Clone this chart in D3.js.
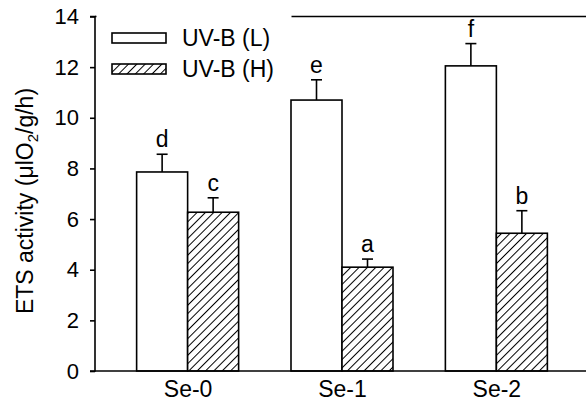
<!DOCTYPE html>
<html>
<head>
<meta charset="utf-8">
<script src="https://cdn.jsdelivr.net/npm/d3@7"></script>
<style>
  body { margin: 0; background: #fff; }
  text { font-family: Arial, "Liberation Sans", sans-serif; fill: #000; }
</style>
</head>
<body>
<script>
var categories = ["Se-0", "Se-1", "Se-2"];
var seriesNames = ["UV-B (L)", "UV-B (H)"];
var lowValues = [7.86, 10.70, 12.05];
var lowErrors = [0.70, 0.80, 0.88];
var highValues = [6.27, 4.10, 5.44];
var highErrors = [0.57, 0.32, 0.89];
var lowLetters = ["d", "e", "f"];
var highLetters = ["c", "a", "b"];
var yTicks = [0, 2, 4, 6, 8, 10, 12, 14];

var w = 586, h = 403;
var plotLeft = 95, plotTop = 16.5, plotBottom = 371;
var barW = 51;
var fs = "23px";

var svg = d3.select("body").append("svg")
  .attr("width", w)
  .attr("height", h);

var defs = svg.append("defs");
defs.append("pattern")
  .attr("id", "hatch")
  .attr("patternUnits", "userSpaceOnUse")
  .attr("width", 5.9)
  .attr("height", 5.9)
  .attr("patternTransform", "rotate(45)")
  .call(function(p) {
    p.append("rect").attr("width", 5.9).attr("height", 5.9).attr("fill", "#fff");
    p.append("line")
      .attr("x1", 0).attr("y1", 0).attr("x2", 0).attr("y2", 5.9)
      .attr("stroke", "#000").attr("stroke-width", 2);
  });

var x = d3.scalePoint()
  .domain(categories)
  .range([plotLeft, 589])
  .padding(0.6);

var y = d3.scaleLinear()
  .domain([0, 14])
  .range([plotBottom, plotTop]);

var rows = categories.map(function(c, i) {
  return [
    {cat: c, v: lowValues[i], e: lowErrors[i], l: lowLetters[i], off: -barW, fill: "#fff"},
    {cat: c, v: highValues[i], e: highErrors[i], l: highLetters[i], off: 0, fill: "url(#hatch)"}
  ];
});
var bars = d3.merge(rows);

// top frame line
svg.append("line")
  .attr("x1", plotLeft).attr("x2", w)
  .attr("y1", y(14)).attr("y2", y(14))
  .attr("stroke", "#000").attr("stroke-width", 1.6);

// error bars
svg.selectAll("line.err")
  .data(bars)
  .enter()
  .append("line")
  .classed("err", true)
  .attr("x1", function(d) { return x(d.cat) + d.off + barW / 2; })
  .attr("x2", function(d) { return x(d.cat) + d.off + barW / 2; })
  .attr("y1", function(d) { return y(d.v); })
  .attr("y2", function(d) { return y(d.v + d.e); })
  .attr("stroke", "#000").attr("stroke-width", 1.6);

svg.selectAll("line.cap")
  .data(bars)
  .enter()
  .append("line")
  .classed("cap", true)
  .attr("x1", function(d) { return x(d.cat) + d.off + barW / 2 - 5.5; })
  .attr("x2", function(d) { return x(d.cat) + d.off + barW / 2 + 5.5; })
  .attr("y1", function(d) { return y(d.v + d.e); })
  .attr("y2", function(d) { return y(d.v + d.e); })
  .attr("stroke", "#000").attr("stroke-width", 1.6);

svg.selectAll("rect.bar")
  .data(bars)
  .enter()
  .append("rect")
  .classed("bar", true)
  .attr("x", function(d) { return x(d.cat) + d.off; })
  .attr("y", function(d) { return y(d.v); })
  .attr("width", barW)
  .attr("height", function(d) { return y(0) - y(d.v); })
  .attr("fill", function(d) { return d.fill; })
  .attr("stroke", "#000").attr("stroke-width", 1.6);

svg.selectAll("text.letter")
  .data(bars)
  .enter()
  .append("text")
  .classed("letter", true)
  .attr("x", function(d) { return x(d.cat) + d.off + barW / 2; })
  .attr("y", function(d) { return y(d.v + d.e) - 7; })
  .attr("text-anchor", "middle")
  .attr("font-size", fs)
  .text(function(d) { return d.l; });

// y axis
var yAxis = d3.axisLeft(y)
  .tickValues(yTicks)
  .tickSize(5)
  .tickPadding(11);
var ya = svg.append("g")
  .attr("transform", "translate(" + plotLeft + ",0)")
  .call(yAxis);
ya.select(".domain")
  .attr("d", "M-5," + y(14) + "H0V" + y(0) + "H-5")
  .attr("stroke-width", 1.6);
ya.selectAll(".tick line").attr("stroke-width", 1.6);
ya.selectAll("text")
  .attr("font-size", "22px")
  .attr("font-family", "Arial, 'Liberation Sans', sans-serif")
  .attr("fill", "#000");

// x axis
var xAxis = d3.axisBottom(x)
  .tickSize(0)
  .tickPadding(10);
var xa = svg.append("g")
  .attr("transform", "translate(0," + plotBottom + ")")
  .call(xAxis);
xa.select(".domain").attr("d", "M" + plotLeft + ",0H" + w).attr("stroke-width", 1.6);
xa.selectAll("text")
  .attr("font-size", fs)
  .attr("font-family", "Arial, 'Liberation Sans', sans-serif")
  .attr("fill", "#000");

// y title
var yt = svg.append("text")
  .attr("transform", "translate(33,201) rotate(-90)")
  .attr("text-anchor", "middle")
  .attr("font-size", fs);
yt.append("tspan").text("ETS activity (\u03bclO");
yt.append("tspan").attr("font-size", "15px").attr("dy", 5).text("2");
yt.append("tspan").attr("dy", -5).text("/g/h)");

// legend
var lg = svg.append("g");
lg.append("rect")
  .attr("x", plotLeft + 1.5).attr("y", y(14) - 2)
  .attr("width", 195).attr("height", 80)
  .attr("fill", "#fff");
var legendFills = ["#fff", "url(#hatch)"];
seriesNames.forEach(function(name, i) {
  var cy = 38 + i * 31;
  lg.append("rect")
    .attr("x", 112).attr("y", cy - 5)
    .attr("width", 54).attr("height", 10)
    .attr("fill", legendFills[i])
    .attr("stroke", "#000").attr("stroke-width", 1.6);
  lg.append("text")
    .attr("x", 182).attr("y", cy + 8)
    .attr("font-size", fs)
    .text(name);
});
</script>
</body>
</html>
